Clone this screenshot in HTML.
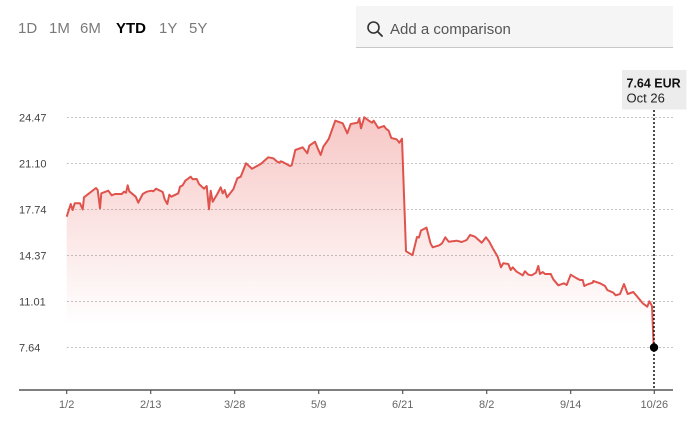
<!DOCTYPE html>
<html>
<head>
<meta charset="utf-8">
<style>
  html,body{margin:0;padding:0;background:#fff;}
  body{width:700px;height:424px;overflow:hidden;position:relative;font-family:"Liberation Sans",Arial,sans-serif;}
  .tab{position:absolute;top:19px;font-size:15px;color:#7a7a7a;line-height:20px;}
  .tab.on{color:#000;font-weight:bold;}
  .search{position:absolute;left:356px;top:6px;width:317px;height:41px;background:#f5f5f5;border-bottom:1px solid #c8c8c8;}
  .search span{position:absolute;left:34px;top:15px;font-size:15px;color:#555;line-height:18px;}
  svg{position:absolute;left:0;top:0;}
</style>
</head>
<body>
<div class="tab" style="left:18px">1D</div>
<div class="tab" style="left:49px">1M</div>
<div class="tab" style="left:80px">6M</div>
<div class="tab on" style="left:116px">YTD</div>
<div class="tab" style="left:159px">1Y</div>
<div class="tab" style="left:189px">5Y</div>

<div class="search">
  <svg width="30" height="40" style="left:0;top:0">
    <circle cx="17.5" cy="21.5" r="5.5" fill="none" stroke="#333" stroke-width="1.6"/>
    <line x1="21.5" y1="25.5" x2="26" y2="30" stroke="#333" stroke-width="1.8" stroke-linecap="round"/>
  </svg>
  <span>Add a comparison</span>
</div>

<svg width="700" height="424" viewBox="0 0 700 424">
  <defs>
    <linearGradient id="g" gradientUnits="userSpaceOnUse" x1="0" y1="117" x2="0" y2="325">
      <stop offset="0" stop-color="#e4524b" stop-opacity="0.32"/>
      <stop offset="1" stop-color="#e4524b" stop-opacity="0"/>
    </linearGradient>
  </defs>
  <g stroke="#c4c4c4" stroke-width="1" stroke-dasharray="2,2">
    <line x1="67" y1="117.5" x2="673" y2="117.5"/>
    <line x1="67" y1="163.5" x2="673" y2="163.5"/>
    <line x1="67" y1="209.5" x2="673" y2="209.5"/>
    <line x1="67" y1="255.5" x2="673" y2="255.5"/>
    <line x1="67" y1="301.5" x2="673" y2="301.5"/>
    <line x1="67" y1="347.5" x2="673" y2="347.5"/>
  </g>
  <g font-size="11" fill="#444" font-family="Liberation Sans, Arial, sans-serif">
    <text x="19" y="121.5">24.47</text>
    <text x="19" y="167.5">21.10</text>
    <text x="19" y="213.5">17.74</text>
    <text x="19" y="259.5">14.37</text>
    <text x="19" y="305.5">11.01</text>
    <text x="19" y="351.5">7.64</text>
  </g>

  <polygon fill="url(#g)" points="66.7,330 66.7,216.7 70.7,204 72.7,210 74.7,203.3 80,203.3 82.7,209.3 84,197.3 96,188 97.7,190 100,208.3 101.3,193.3 108.3,190.7 111.7,195.3 115,194 121.7,194 124,191.7 126,192.7 127.7,185.3 129.3,191.3 135.7,196.7 138.3,202.7 142.7,194 146.7,191.7 151.7,190.7 153.3,191.3 156,188.7 162.7,192 164.7,199.3 167.3,204 169.3,194.7 171.3,196.7 178.3,193.3 180,186.7 182.7,185.3 185.3,180.7 190.7,176.7 192.7,179.3 196.7,179 199,184 204,188.7 206.7,186 209,209.3 210.7,190.7 212.7,201.7 217.3,194 220.7,187.3 222.7,193.3 224.7,190 227,197.3 233.3,189.3 237.3,178.3 240.7,176.7 246,163.3 252,168.7 260.7,164 268.3,157.3 273.3,158.3 276.7,161.3 279.3,162.7 280.7,161.3 282.7,162 290,166 291.7,165.3 295.3,150 302.7,147.3 307.3,153.3 309.3,145.7 315,141.7 317.7,148.3 320.7,155 323.3,146.7 328.7,139 335.3,120.7 342.7,123.3 347.3,133.3 350.7,124 357.7,122.7 359.3,118.3 361,128.3 364.3,117.3 369.3,121 372,122.7 373.7,120.7 378.3,128 384,126 386,128.7 388.7,130.7 391.3,138 396.7,139.3 399.3,142.7 402,138.7 406,251.2 412.5,255.2 417,237 419,237.5 421,230.5 426.5,227.6 430.5,243.3 432.7,247.3 439.3,245.3 442,243.3 445.3,237.3 448.7,241.7 456.7,240.7 461.7,242 466.7,240 470,235 475,236.7 481.7,242.7 486,237.3 489.3,241.7 493.3,249.3 497.7,256.7 501,267.3 503.3,263.3 508.3,264 510.7,270 512.7,267.3 516.7,271.7 522.7,275.3 525,271.3 528.3,274.7 531.7,275.3 536,272.7 538.3,266 540,274 542.7,272 545,274 550.7,274 553.3,279.3 558.3,285.3 564,283.3 566.7,285 570.7,274.7 576.7,278.3 580,280 582.7,280 584.3,286 586.7,284.7 592.7,282.7 593.3,281 600,283.3 605,286 607.3,290 613.3,292.7 615.7,295.3 620,294 624,284 627.7,294 633.3,292 637.3,296.7 642.7,303.3 647.3,306.7 649.3,301.3 652,306 653.7,347.3 653.7,330"/>

  <polyline fill="none" stroke="#e0534d" stroke-width="2" stroke-linejoin="round" points="66.7,216.7 70.7,204 72.7,210 74.7,203.3 80,203.3 82.7,209.3 84,197.3 96,188 97.7,190 100,208.3 101.3,193.3 108.3,190.7 111.7,195.3 115,194 121.7,194 124,191.7 126,192.7 127.7,185.3 129.3,191.3 135.7,196.7 138.3,202.7 142.7,194 146.7,191.7 151.7,190.7 153.3,191.3 156,188.7 162.7,192 164.7,199.3 167.3,204 169.3,194.7 171.3,196.7 178.3,193.3 180,186.7 182.7,185.3 185.3,180.7 190.7,176.7 192.7,179.3 196.7,179 199,184 204,188.7 206.7,186 209,209.3 210.7,190.7 212.7,201.7 217.3,194 220.7,187.3 222.7,193.3 224.7,190 227,197.3 233.3,189.3 237.3,178.3 240.7,176.7 246,163.3 252,168.7 260.7,164 268.3,157.3 273.3,158.3 276.7,161.3 279.3,162.7 280.7,161.3 282.7,162 290,166 291.7,165.3 295.3,150 302.7,147.3 307.3,153.3 309.3,145.7 315,141.7 317.7,148.3 320.7,155 323.3,146.7 328.7,139 335.3,120.7 342.7,123.3 347.3,133.3 350.7,124 357.7,122.7 359.3,118.3 361,128.3 364.3,117.3 369.3,121 372,122.7 373.7,120.7 378.3,128 384,126 386,128.7 388.7,130.7 391.3,138 396.7,139.3 399.3,142.7 402,138.7 406,251.2 412.5,255.2 417,237 419,237.5 421,230.5 426.5,227.6 430.5,243.3 432.7,247.3 439.3,245.3 442,243.3 445.3,237.3 448.7,241.7 456.7,240.7 461.7,242 466.7,240 470,235 475,236.7 481.7,242.7 486,237.3 489.3,241.7 493.3,249.3 497.7,256.7 501,267.3 503.3,263.3 508.3,264 510.7,270 512.7,267.3 516.7,271.7 522.7,275.3 525,271.3 528.3,274.7 531.7,275.3 536,272.7 538.3,266 540,274 542.7,272 545,274 550.7,274 553.3,279.3 558.3,285.3 564,283.3 566.7,285 570.7,274.7 576.7,278.3 580,280 582.7,280 584.3,286 586.7,284.7 592.7,282.7 593.3,281 600,283.3 605,286 607.3,290 613.3,292.7 615.7,295.3 620,294 624,284 627.7,294 633.3,292 637.3,296.7 642.7,303.3 647.3,306.7 649.3,301.3 652,306 653.7,347.3"/>

  <line x1="654" y1="110" x2="654" y2="390" stroke="#111" stroke-width="1.5" stroke-dasharray="2,2"/>

  <line x1="19" y1="390" x2="673" y2="390" stroke="#555" stroke-width="1.6"/>
  <g stroke="#555" stroke-width="1.2">
    <line x1="66.7" y1="390" x2="66.7" y2="394"/>
    <line x1="150.7" y1="390" x2="150.7" y2="394"/>
    <line x1="234.7" y1="390" x2="234.7" y2="394"/>
    <line x1="318.7" y1="390" x2="318.7" y2="394"/>
    <line x1="402.7" y1="390" x2="402.7" y2="394"/>
    <line x1="486.7" y1="390" x2="486.7" y2="394"/>
    <line x1="570.7" y1="390" x2="570.7" y2="394"/>
    <line x1="654.3" y1="390" x2="654.3" y2="394"/>
  </g>
  <g font-size="11" fill="#666" text-anchor="middle" font-family="Liberation Sans, Arial, sans-serif">
    <text x="66.7" y="408">1/2</text>
    <text x="150.7" y="408">2/13</text>
    <text x="234.7" y="408">3/28</text>
    <text x="318.7" y="408">5/9</text>
    <text x="402.7" y="408">6/21</text>
    <text x="486.7" y="408">8/2</text>
    <text x="570.7" y="408">9/14</text>
    <text x="654.3" y="408">10/26</text>
  </g>

  <circle cx="654" cy="347.5" r="4.2" fill="#000"/>

  <rect x="622" y="70" width="64.5" height="39.5" fill="#ececec"/>
  <text x="626.5" y="87.3" font-size="12.5" font-weight="bold" fill="#111" font-family="Liberation Sans, Arial, sans-serif">7.64 EUR</text>
  <text x="626.5" y="102.3" font-size="13" fill="#222" font-family="Liberation Sans, Arial, sans-serif">Oct 26</text>
</svg>
</body>
</html>
